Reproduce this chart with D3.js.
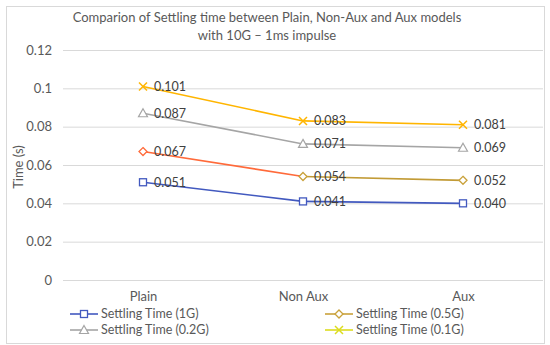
<!DOCTYPE html>
<html><head><meta charset="utf-8">
<script src="https://cdn.jsdelivr.net/npm/d3@7"></script>
<style>body{margin:0;background:#fff}svg{display:block;font-family:Lato,"Open Sans",sans-serif}</style>
</head><body>
<svg id="chart" width="550" height="345"></svg>
<script>
const categories = ["Plain", "Non Aux", "Aux"];
const seriesNames = ["Settling Time (1G)", "Settling Time (0.5G)", "Settling Time (0.2G)", "Settling Time (0.1G)"];
const values1G = [0.051, 0.041, 0.040];
const values05G = [0.067, 0.054, 0.052];
const values02G = [0.087, 0.071, 0.069];
const values01G = [0.101, 0.083, 0.081];
const yTicks = [0, 0.02, 0.04, 0.06, 0.08, 0.1, 0.12];
const titleLines = ["Comparion of Settling time between Plain, Non-Aux and Aux models", "with 10G – 1ms impulse"];

const series = [
  {name: seriesNames[0], values: values1G, marker: "square", legend: "#4259BF", segColors: ["#4259BF", "#4259BF"], markerColors: ["#4259BF","#4259BF","#4259BF"]},
  {name: seriesNames[1], values: values05G, marker: "diamond", legend: "#C9A13A", segColors: ["#FF6A3A", "#C29B36"], markerColors: ["#FF6A3A","#C9A13A","#C9A13A"]},
  {name: seriesNames[2], values: values02G, marker: "triangle", legend: "#A5A5A5", segColors: ["#A5A5A5", "#A5A5A5"], markerColors: ["#A5A5A5","#A5A5A5","#A5A5A5"]},
  {name: seriesNames[3], values: values01G, marker: "x", legend: "#DCDC1E", segColors: ["#FFB500", "#FFB500"], markerColors: ["#FFB500","#FFB500","#FFB500"]}
];

const svg = d3.select("#chart");
const L = 63, R = 543, T = 50, B = 280;

svg.append("rect").attr("x", 6.5).attr("y", 6.5).attr("width", 538).attr("height", 337)
  .attr("fill", "#fff").attr("stroke", "#D9D9D9").attr("stroke-width", 1);

const x = d3.scalePoint().domain(categories).range([L, R]).padding(0.5);
const y = d3.scaleLinear().domain([0, 0.12]).range([B, T]);

const yAxis = d3.axisLeft(y).tickValues(yTicks).tickSize(-(R - L)).tickFormat(d => String(+d.toFixed(2)));
const gy = svg.append("g").attr("transform", `translate(${L},0)`).call(yAxis);
gy.select(".domain").remove();
gy.selectAll(".tick line").attr("stroke", "#D9D9D9");
gy.selectAll(".tick text").attr("x", -11).attr("fill", "#595959").style("font-size", "13px").style("font-family", "Lato");

const xAxis = d3.axisBottom(x).tickSize(0);
const gx = svg.append("g").attr("transform", `translate(0,${B})`).call(xAxis);
gx.select(".domain").remove();
gx.selectAll(".tick text").attr("dy", "0").attr("y", 21).attr("fill", "#595959").style("font-size", "13px").style("font-family", "Lato");

svg.append("g").selectAll("text").data(titleLines).join("text")
  .attr("x", 267).attr("y", (d, i) => 22 + i * 18).attr("text-anchor", "middle")
  .attr("fill", "#595959").style("font-size", "13px").text(d => d);

svg.append("text").attr("transform", "translate(23,167) rotate(-90)").attr("text-anchor", "middle")
  .attr("fill", "#595959").style("font-size", "13px").text("Time (s)");

function drawMarker(g, type, cx, cy, color) {
  if (type === "square") {
    g.append("rect").attr("x", cx - 3.5).attr("y", cy - 3.5).attr("width", 7).attr("height", 7)
      .attr("fill", "#fff").attr("stroke", color).attr("stroke-width", 1.3);
  } else if (type === "diamond") {
    g.append("path").attr("d", `M${cx},${cy-4}L${cx+4},${cy}L${cx},${cy+4}L${cx-4},${cy}Z`)
      .attr("fill", "#fff").attr("stroke", color).attr("stroke-width", 1.3);
  } else if (type === "triangle") {
    g.append("path").attr("d", `M${cx},${cy-4.5}L${cx+4.5},${cy+3.5}L${cx-4.5},${cy+3.5}Z`)
      .attr("fill", "#fff").attr("stroke", color).attr("stroke-width", 1.2);
  } else if (type === "x") {
    g.append("path").attr("d", `M${cx-4},${cy-4}L${cx+4},${cy+4}M${cx-4},${cy+4}L${cx+4},${cy-4}`)
      .attr("stroke", color).attr("stroke-width", 1.5);
  }
}

series.forEach(s => {
  const g = svg.append("g");
  for (let i = 0; i < categories.length - 1; i++) {
    g.append("line")
      .attr("x1", x(categories[i])).attr("y1", y(s.values[i]))
      .attr("x2", x(categories[i + 1])).attr("y2", y(s.values[i + 1]))
      .attr("stroke", s.segColors[i]).attr("stroke-width", 1.6);
  }
  s.values.forEach((v, i) => drawMarker(g, s.marker, x(categories[i]), y(v), s.markerColors[i]));
});
series.forEach(s => {
  svg.append("g").selectAll("text").data(s.values).join("text")
    .attr("x", (d, i) => x(categories[i]) + 11).attr("y", d => y(d)).attr("dy", "0.35em")
    .attr("fill", "#404040").style("font-size", "12.5px").text(d => d.toFixed(3));
});

const legendPos = [[70, 314], [325, 314], [70, 330], [325, 330]];
series.forEach((s, k) => {
  const [lx, ly] = legendPos[k];
  const g = svg.append("g");
  g.append("line").attr("x1", lx).attr("x2", lx + 28).attr("y1", ly).attr("y2", ly)
    .attr("stroke", s.legend).attr("stroke-width", 1.6);
  drawMarker(g, s.marker, lx + 14, ly, s.legend);
  g.append("text").attr("x", lx + 31).attr("y", ly).attr("dy", "0.35em")
    .attr("fill", "#595959").style("font-size", "12.5px").text(s.name);
});
</script>
</body></html>
